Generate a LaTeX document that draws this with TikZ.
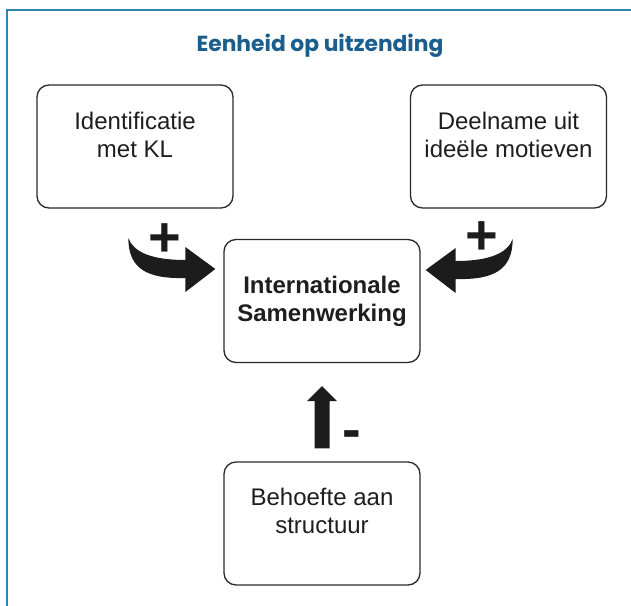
\documentclass[tikz,border=0pt]{standalone}
\usepackage{fontspec}
\setmainfont{Liberation Sans}
\newfontfamily\titlefont{Poppins}
\usetikzlibrary{calc}
\definecolor{frameblue}{HTML}{2E84AE}
\definecolor{titleblue}{HTML}{1A5E8E}
\definecolor{arrowfill}{HTML}{1C1C1C}
\definecolor{boxline}{HTML}{2A2A2A}
\definecolor{textcol}{HTML}{1E1E1E}
\begin{document}
\begin{tikzpicture}[x=1pt,y=-1pt,
  frame/.style={draw=frameblue, line width=2pt},
  box/.style={draw=boxline, line width=1.3pt, rounded corners=12pt,
    minimum width=196pt, minimum height=123pt, inner sep=0pt},
  boxtext/.style={font=\fontsize{24}{28}\selectfont, align=center, text=textcol},
  centertext/.style={font=\bfseries\fontsize{24}{28}\selectfont, align=center, text=textcol},
  sign/.style={font=\bfseries\fontsize{56}{60}\selectfont, text=arrowfill, anchor=base, inner sep=0pt},
  curvarrow/.pic={
    \fill[arrowfill] (0,0) -- (-30,23) -- (-30,9)
      .. controls (-68,10) and (-87,0) .. (-87,-31)
      .. controls (-82,-17) and (-64,-9) .. (-30,-9)
      -- (-30,-22) -- cycle;
  }]
\useasboundingbox (0,0) rectangle (631,605);
\draw[frame] (7,606) -- (7,10) -- (632,10);

\node[font=\titlefont\bfseries\fontsize{21.8}{24}\selectfont, text=titleblue] (T) at (320,45.5) {Eenheid op uitzending};

\node[box] (L) at (135,146.5) {};
\node[box] (R) at (508.5,146.5) {};
\node[box] (C) at (322,301) {};
\node[box] (B) at (322,523.5) {};

\node[boxtext] (Lt) at ([yshift=11.5pt]L.center) {Identificatie\\met KL};
\node[boxtext] (Rt) at ([yshift=11.5pt]R.center) {Deelname uit\\ideële motieven};
\node[centertext] (Ct) at (C.center) {Internationale\\Samenwerking};
\node[boxtext] (Bt) at ([yshift=12.5pt]B.center) {Behoefte aan\\structuur};

% curved arrows into the centre box
\pic at ([xshift=-8pt,yshift=32pt]C.west) {curvarrow};
\pic[xscale=-1] at ([xshift=5pt,yshift=31pt]C.east) {curvarrow};

% straight arrow from bottom box to centre box
\fill[arrowfill] ($(C.south)+(0,23)$) -- ($(C.south)+(15,38)$) -- ($(C.south)+(7.5,38)$)
  -- ($(B.north)+(7.5,-13)$) -- ($(B.north)+(-7.5,-13)$)
  -- ($(C.south)+(-7.5,38)$) -- ($(C.south)+(-15,38)$) -- cycle;

\node[sign] (pL) at (165,256) {+};
\node[sign] (pR) at (482,254) {+};
\node[sign] (mB) at (351.5,448) {-};
\end{tikzpicture}
\end{document}
